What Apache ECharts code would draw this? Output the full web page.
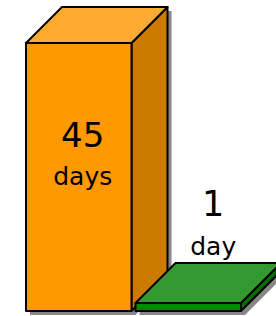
<!DOCTYPE html>
<html>
<head>
<meta charset="utf-8">
<script src="https://cdn.jsdelivr.net/npm/echarts@6/dist/echarts.min.js"></script>
<style>html,body{margin:0;padding:0;background:#fff}#c{width:276px;height:316px}</style>
</head>
<body>
<div id="c"></div>
<script>
var categories = ['Before', 'After'];
var values = [45, 1];
var units = ['days', 'day'];

var depths = [36, 40];
var faceColors = [
  {front: '#FF9900', top: '#FFAA33', side: '#CC7A00'},
  {front: '#008800', top: '#339933', side: '#007000'}
];

var chart = echarts.init(document.getElementById('c'), null, {renderer: 'svg'});

function renderItem(params, api) {
  var i = params.dataIndex;
  var v = api.value(1);
  var base = api.coord([api.value(0), 0]);
  var top = api.coord([api.value(0), v]);
  var band = api.size([1, 0])[0];
  var w = band - 4;
  var x0 = base[0] - w / 2, x1 = base[0] + w / 2;
  var yb = base[1], yt = top[1];
  if (yb - yt < 8) yt = yb - 8;
  var d = depths[i];
  var c = faceColors[i];
  var s = 4;
  var stroke = {stroke: '#000', lineWidth: 2, lineJoin: 'round'};
  var children = [];
  children.push({type: 'polygon', shape: {points: [
    [x0 + s, yb + s], [x0 + s, yt + s], [x0 + d + s, yt - d + s], [x1 + d + s, yt - d + s],
    [x1 + d + s, yb - d + s], [x1 + s, yb + s]]}, style: {fill: '#888888'}});
  children.push({type: 'polygon', shape: {points: [[x1, yt], [x1 + d, yt - d], [x1 + d, yb - d], [x1, yb]]},
    style: Object.assign({fill: c.side}, stroke)});
  children.push({type: 'polygon', shape: {points: [[x0, yt], [x0 + d, yt - d], [x1 + d, yt - d], [x1, yt]]},
    style: Object.assign({fill: c.top}, stroke)});
  children.push({type: 'rect', shape: {x: x0, y: yt, width: w, height: yb - yt},
    style: Object.assign({fill: c.front}, stroke)});
  var font = 'DejaVu Sans';
  if (i === 0) {
    var cx = (x0 + x1) / 2 + 4;
    children.push({type: 'text', style: {text: String(values[i]), x: cx, y: yt + 92, align: 'center', verticalAlign: 'middle', fontSize: 34, fontFamily: font, fill: '#000'}});
    children.push({type: 'text', style: {text: units[i], x: cx, y: yt + 133, align: 'center', verticalAlign: 'middle', fontSize: 25, fontFamily: font, fill: '#000'}});
  } else {
    var cx2 = (x0 + x1) / 2 + 25;
    children.push({type: 'text', style: {text: String(values[i]), x: cx2, y: yt - 99, align: 'center', verticalAlign: 'middle', fontSize: 35, fontFamily: font, fill: '#000'}});
    children.push({type: 'text', style: {text: units[i], x: cx2, y: yt - 57, align: 'center', verticalAlign: 'middle', fontSize: 25, fontFamily: font, fill: '#000'}});
  }
  return {type: 'group', children: children};
}

chart.setOption({
  animation: false,
  grid: {left: 24, width: 219, top: 43, bottom: 5},
  xAxis: {type: 'category', data: categories, show: false},
  yAxis: {type: 'value', min: 0, max: 45, show: false},
  series: [{
    type: 'custom',
    renderItem: renderItem,
    clip: false,
    data: values.map(function (v, i) { return [i, v]; })
  }]
});
</script>
</body>
</html>
